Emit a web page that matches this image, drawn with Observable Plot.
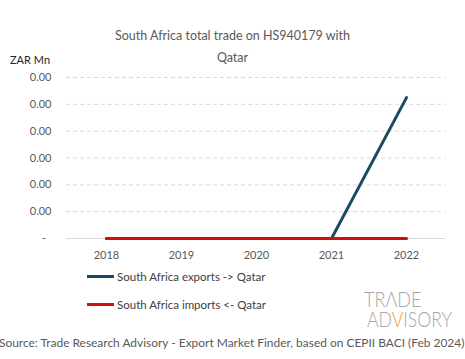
<!DOCTYPE html>
<html>
<head>
<meta charset="utf-8">
<script src="https://cdn.jsdelivr.net/npm/d3@7"></script>
<script src="https://cdn.jsdelivr.net/npm/@observablehq/plot@0.6"></script>
<style>
  html, body { margin: 0; padding: 0; background: #fff; }
  #wrap { position: relative; width: 465px; height: 359px; overflow: hidden; font-family: Lato, "Open Sans", sans-serif; }
  #wrap > * { position: absolute; }
  .title { left: 0; width: 465px; text-align: center; color: #595959; font-size: 12.5px; }
  .unit { left: 10px; top: 53px; font-size: 11px; color: #262626; }
  .leg { left: 87px; font-size: 11.5px; color: #404040; display: flex; align-items: center; }
  .leg span.sw { display: inline-block; width: 27px; height: 3px; margin-right: 3px; }
  .src { left: -1px; top: 335px; font-size: 11.95px; color: #595959; white-space: nowrap; }
  .logo { font-family: Lato, sans-serif; font-weight: 300; font-size: 21px; line-height: 16px; height: 16px; color: #a6a6a6; white-space: nowrap; transform-origin: 0 0; }
</style>
</head>
<body>
<div id="wrap">
  <div id="chart" style="left:0;top:0"></div>
  <div class="title" style="top:28px">South Africa total trade on HS940179 with</div>
  <div class="title" style="top:50px">Qatar</div>
  <div class="unit">ZAR Mn</div>
  <div class="leg" style="top:270px"><span class="sw" style="background:#1b4a63"></span>South Africa exports -&gt; Qatar</div>
  <div class="leg" style="top:298px"><span class="sw" style="background:#d01010"></span>South Africa imports &lt;- Qatar</div>
  <div class="logo" style="left:364px;top:291px;transform:scaleX(0.86)">TRΛDE</div>
  <div class="logo" style="left:367px;top:311px;transform:scaleX(0.84)">AD<span style="color:#f0a030">V</span>ISORY</div>
  <div class="src">Source: Trade Research Advisory - Export Market Finder, based on CEPII BACI (Feb 2024)</div>
</div>
<script>
const years = ["2018", "2019", "2020", "2021", "2022"];
const exportsZA = [0, 0, 0, 0, 0.0042];
const importsZA = [0, 0, 0, 0, 0];
const yTicks = [0, 0.0008, 0.0016, 0.0024, 0.0032, 0.004, 0.0048];

const exData = years.map((y, i) => ({year: y, value: exportsZA[i]}));
const imData = years.map((y, i) => ({year: y, value: importsZA[i]}));

const chart = Plot.plot({
  width: 465,
  height: 270,
  marginLeft: 66,
  marginRight: 20,
  marginTop: 77,
  marginBottom: 32,
  style: {fontFamily: "Lato, 'Open Sans', sans-serif", fontSize: "11px", color: "#595959", background: "transparent"},
  x: {type: "point", domain: years, range: [104, 407], padding: 0},
  y: {domain: [0, 0.0048]},
  marks: [
    Plot.ruleY(yTicks.filter(d => d > 0), {stroke: "#d9d9d9", strokeDasharray: "4,3", strokeWidth: 1}),
    Plot.ruleY([0], {stroke: "#d9d9d9", strokeWidth: 1}),
    Plot.axisX({tickSize: 0, tickPadding: 13, label: null, fill: "#595959"}),
    Plot.axisY({ticks: yTicks, tickSize: 0, tickPadding: 15, label: null, fill: "#595959",
      tickFormat: d => d === 0 ? "-\u00a0\u00a0" : d3.format(".2f")(d)}),
    Plot.line(exData, {x: "year", y: "value", stroke: "#1b4a63", strokeWidth: 3}),
    Plot.line(imData, {x: "year", y: "value", stroke: "#d01010", strokeWidth: 3})
  ]
});
document.getElementById("chart").appendChild(chart);
</script>
</body>
</html>
